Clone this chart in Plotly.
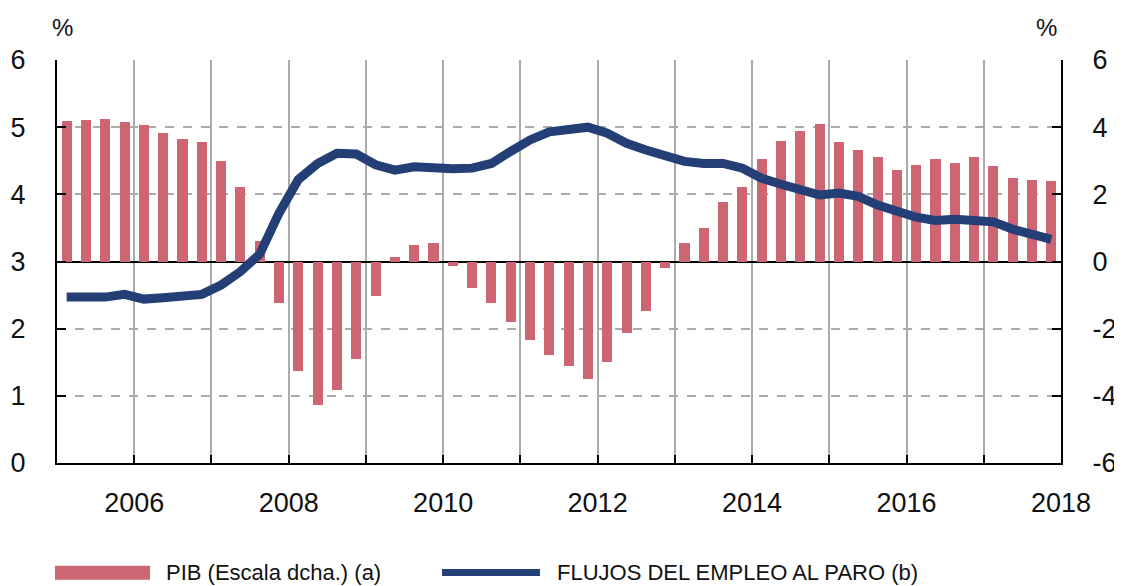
import numpy as np
import plotly.graph_objects as go

# quarterly data 2005Q1 - 2017Q4
years = list(range(2005, 2018))
quarters = [1, 2, 3, 4]

# PIB, % (right scale)
pib = [4.17, 4.20, 4.24, 4.14,
       4.06, 3.83, 3.65, 3.55,
       3.00, 2.21, 0.62, -1.24,
       -3.27, -4.27, -3.82, -2.90,
       -1.04, 0.13, 0.48, 0.54,
       -0.12, -0.79, -1.24, -1.81,
       -2.33, -2.78, -3.12, -3.49,
       -2.99, -2.13, -1.47, -0.20,
       0.54, 1.01, 1.77, 2.23,
       3.04, 3.58, 3.89, 4.09,
       3.57, 3.32, 3.11, 2.72,
       2.86, 3.06, 2.93, 3.11,
       2.84, 2.50, 2.43, 2.39]

# flujos del empleo al paro, % (left scale)
flujos = [2.47, 2.46, 2.47, 2.51,
          2.44, 2.46, 2.49, 2.51,
          2.65, 2.85, 3.11, 3.72,
          4.22, 4.46, 4.61, 4.60,
          4.44, 4.36, 4.41, 4.38,
          4.38, 4.39, 4.46, 4.64,
          4.81, 4.93, 4.98, 5.00,
          4.91, 4.76, 4.66, 4.59,
          4.49, 4.46, 4.46, 4.39,
          4.24, 4.15, 4.08, 3.99,
          4.02, 3.97, 3.84, 3.74,
          3.66, 3.61, 3.63, 3.61,
          3.59, 3.48, 3.40, 3.33]

year_ticks = list(range(2005, 2019))
year_labels = [str(y) if y % 2 == 0 else '' for y in year_ticks]
left_ticks = [0, 1, 2, 3, 4, 5, 6]
right_ticks = [-6, -4, -2, 0, 2, 4, 6]
right_labels = [str(v) for v in right_ticks]  # plain hyphen, as in the original

label_pib = 'PIB (Escala dcha.) (a)'
label_flujos = 'FLUJOS DEL EMPLEO AL PARO (b)'

# —— colours / fonts ——
c_bar = '#cd6672'
c_line = '#233f76'
c_grid = '#ababab'
f_tick = 'Liberation Sans, Arial, Helvetica, sans-serif'

x = [y + (q - 0.5) / 4 for y in years for q in quarters]

fig = go.Figure()

fig.add_trace(go.Bar(
    x=x, y=pib, name=label_pib, yaxis='y',
    marker=dict(color=c_bar, line=dict(width=0)),
    width=0.13, showlegend=False
))

fig.add_trace(go.Scatter(
    x=x, y=flujos, name=label_flujos, yaxis='y2', mode='lines',
    line=dict(color=c_line, width=9), showlegend=False
))

# —— legend drawn by hand below the plot ——
fig.add_shape(type='rect', xref='paper', yref='paper',
              x0=-0.002, x1=0.0926, y0=-0.255, y1=-0.29,
              fillcolor=c_bar, line=dict(width=0))
fig.add_shape(type='line', xref='paper', yref='paper',
              x0=0.3835, x1=0.481, y0=-0.272, y1=-0.272,
              line=dict(color=c_line, width=7))
fig.add_annotation(text=label_pib, xref='paper', yref='paper',
                   x=0.107, y=-0.272, xanchor='left', yanchor='middle',
                   showarrow=False, font=dict(family=f_tick, size=22, color='#111'))
fig.add_annotation(text=label_flujos, xref='paper', yref='paper',
                   x=0.496, y=-0.272, xanchor='left', yanchor='middle',
                   showarrow=False, font=dict(family=f_tick, size=22, color='#111'))

# "%" unit labels
for xp in (0.005, 0.986):
    fig.add_annotation(text='%', xref='paper', yref='paper', x=xp, y=1.08,
                       xanchor='center', yanchor='middle', showarrow=False,
                       font=dict(family=f_tick, size=24, color='#111'))

# page body has an 8px margin, so the figure is sized to fit inside it
fig.update_layout(
    width=1114, height=578,
    margin=dict(l=49, r=61, t=52, b=123),
    paper_bgcolor='white', plot_bgcolor='white',
    bargap=0,
    xaxis=dict(
        range=[2005, 2018], tickvals=year_ticks, ticktext=year_labels,
        showgrid=True, gridcolor=c_grid, gridwidth=1.5,
        showline=True, linecolor='black', linewidth=2,
        ticks='inside', ticklen=8, tickcolor='black', tickwidth=2,
        ticklabelstandoff=15, automargin=False,
        tickfont=dict(family=f_tick, size=27, color='#111'),
        zeroline=False, anchor='y'
    ),
    yaxis=dict(
        side='right', range=[-6, 6], tickvals=right_ticks, ticktext=right_labels,
        showgrid=True, gridcolor=c_grid, gridwidth=2, griddash='dash',
        zeroline=True, zerolinecolor='black', zerolinewidth=1.5,
        showline=True, linecolor='black', linewidth=2,
        ticks='inside', ticklen=9, tickcolor='black', tickwidth=2,
        ticklabelstandoff=24, automargin=False,
        tickfont=dict(family=f_tick, size=27, color='#111')
    ),
    yaxis2=dict(
        side='left', overlaying='y', range=[0, 6], tickvals=left_ticks,
        showgrid=False, zeroline=False,
        showline=True, linecolor='black', linewidth=2,
        ticks='inside', ticklen=9, tickcolor='black', tickwidth=2,
        ticklabelstandoff=24, automargin=False,
        tickfont=dict(family=f_tick, size=27, color='#111')
    ),
)

fig.write_html('out.html')
